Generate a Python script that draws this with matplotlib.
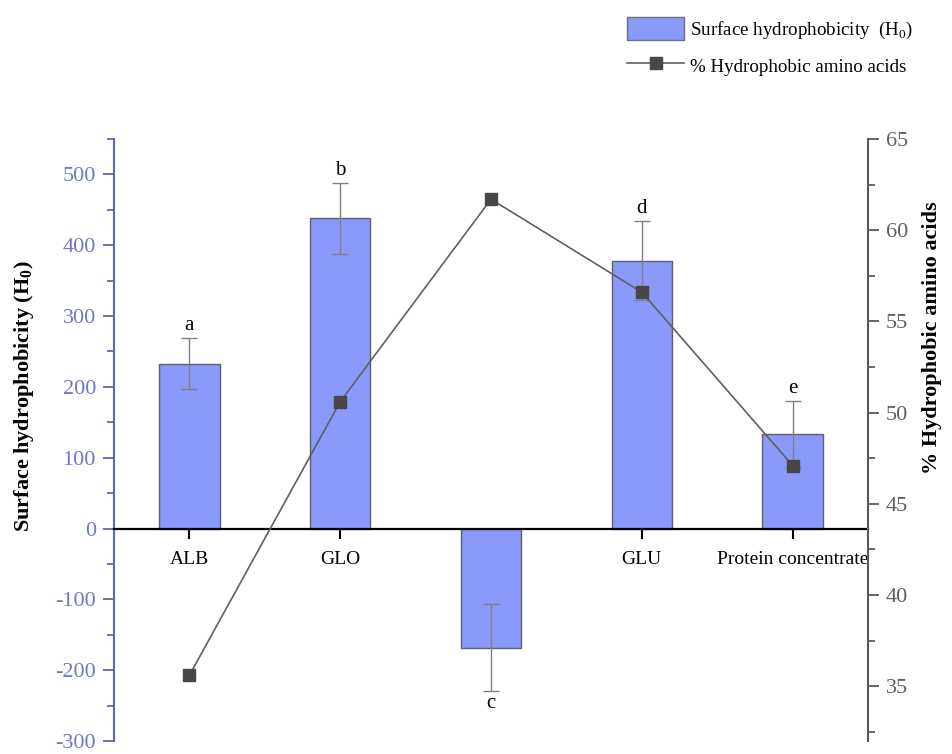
import matplotlib
matplotlib.use("Agg")
import matplotlib.pyplot as plt
from matplotlib.patches import Patch
from matplotlib.lines import Line2D
from matplotlib.ticker import MultipleLocator

# data
categories = ["ALB", "GLO", "PRO", "GLU", "Protein concentrate"]
h0 = [233, 438, -168, 378, 133]
h0_err = [36, 50, 62, 56, 47]
letters = ["a", "b", "c", "d", "e"]
hydro_pct = [35.6, 50.6, 61.7, 56.6, 47.1]

plt.rcParams["font.family"] = ["Liberation Serif", "DejaVu Serif"]
plt.rcParams["mathtext.fontset"] = "custom"
plt.rcParams["mathtext.rm"] = "Liberation Serif"
plt.rcParams["mathtext.bf"] = "Liberation Serif:bold"
plt.rcParams["axes.unicode_minus"] = False

bar_color = "#8a9afb"
left_col = "#5c66c4"
left_txt = "#6f78c8"
right_col = "#5a5a5a"

fig = plt.figure(figsize=(9.52, 7.54), dpi=100)
ax = fig.add_axes([114 / 952, 13 / 754, (868 - 114) / 952, (741 - 139) / 754])
ax2 = ax.twinx()

x = list(range(len(categories)))
ax.bar(x, h0, width=0.4, color=bar_color, edgecolor="#5f5f6f", linewidth=1.0, zorder=2)
ax.errorbar(x, h0, yerr=h0_err, fmt="none", ecolor="#808080", elinewidth=1.0,
            capsize=6, capthick=1.0, zorder=3)

# significance letters
for i in x:
    if h0[i] >= 0:
        ax.annotate(letters[i], (i, h0[i] + h0_err[i]), xytext=(0, 2),
                    textcoords="offset points", ha="center", va="bottom", fontsize=15)
    else:
        ax.annotate(letters[i], (i, h0[i] - h0_err[i]), xytext=(0, -2),
                    textcoords="offset points", ha="center", va="top", fontsize=15)

ax.set_xlim(-0.5, 4.5)
ax.set_ylim(-300, 550)
ax.set_xticks(x)
ax.set_xticklabels(categories)
ax.yaxis.set_major_locator(MultipleLocator(100))
ax.yaxis.set_minor_locator(MultipleLocator(50))

ax.spines["top"].set_visible(False)
ax.spines["right"].set_visible(False)
ax.spines["bottom"].set_position(("data", 0))
ax.spines["bottom"].set_linewidth(1.6)
ax.spines["bottom"].set_color("black")
ax.spines["bottom"].set_zorder(4)
ax.spines["left"].set_color(left_col)
ax.spines["left"].set_linewidth(1.5)
ax.tick_params(axis="x", direction="out", length=7, width=1.5, color="black",
               pad=9, labelsize=14)
ax.tick_params(axis="y", which="major", direction="out", length=8, width=1.3,
               color=left_col, labelcolor=left_txt, labelsize=16, pad=5)
ax.tick_params(axis="y", which="minor", direction="out", length=5, width=1.3, color=left_col)
ax.set_ylabel(r"Surface hydrophobicity ($\mathbf{H_0}$)", fontsize=16,
              fontweight="bold", labelpad=14)
ax.yaxis.label.set_y(0.572)

ax2.plot(x, hydro_pct, color="#606060", linewidth=1.2, marker="s", markersize=9,
         markerfacecolor="#474747", markeredgecolor="#474747", zorder=5)
ax2.set_ylim(32, 65)
ax2.yaxis.set_major_locator(MultipleLocator(5))
ax2.yaxis.set_minor_locator(MultipleLocator(2.5))
for s in ["top", "left", "bottom"]:
    ax2.spines[s].set_visible(False)
ax2.spines["right"].set_color(right_col)
ax2.spines["right"].set_linewidth(1.5)
ax2.tick_params(axis="y", which="major", direction="out", length=8, width=1.3,
                color=right_col, labelcolor="#5f5f5f", labelsize=16, pad=5)
ax2.tick_params(axis="y", which="minor", direction="out", length=5, width=1.3, color=right_col)
ax2.set_ylabel("% Hydrophobic amino acids", fontsize=16, fontweight="bold", labelpad=10)
ax2.yaxis.label.set_y(0.67)

handles = [
    Patch(facecolor=bar_color, edgecolor="#707070", linewidth=1.0),
    Line2D([0], [0], color="#606060", linewidth=1.2, marker="s", markersize=9,
           markerfacecolor="#474747", markeredgecolor="#474747"),
]
labels = [r"Surface hydrophobicity  (H$_0$)", "% Hydrophobic amino acids"]
fig.legend(handles, labels, loc="upper left", bbox_to_anchor=(610 / 952, 1.0),
           frameon=False, fontsize=13.7, handlelength=3.0, handleheight=1.5,
           handletextpad=0.3, labelspacing=0.7)

fig.savefig("out.png", dpi=100)
